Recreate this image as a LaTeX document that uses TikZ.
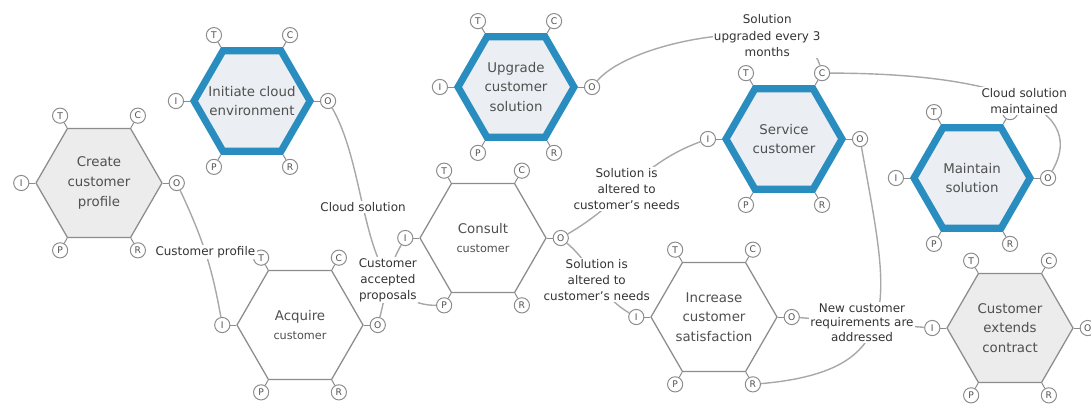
\documentclass[tikz,border=0pt]{standalone}
\usepackage{fontspec}
\setmainfont{DejaVu Sans}
\usepackage{tikz}
\usetikzlibrary{shapes.geometric, calc}
\definecolor{hexgrey}{HTML}{8C8C8C}
\definecolor{hexfill}{HTML}{ECECEC}
\definecolor{procblue}{HTML}{2A8DC0}
\definecolor{procfill}{HTML}{EBEEF2}
\definecolor{linkgrey}{HTML}{A8A8A8}
\definecolor{textgrey}{HTML}{505050}

\begin{document}
\begin{tikzpicture}[x=0.025cm, y=0.025cm,
    hexa/.style={regular polygon, regular polygon sides=6, minimum size=3.15cm,
      inner sep=-8pt, draw=hexgrey, line width=0.9pt, fill=white, align=center,
      text=textgrey, font=\fontsize{9.5}{14}\selectfont},
    greyhexa/.style={hexa, fill=hexfill},
    bluehexa/.style={hexa, minimum size=2.9cm, draw=procblue, line width=5pt,
      fill=procfill},
    port/.style={circle, draw=hexgrey, fill=white, line width=0.7pt,
      minimum size=0.38cm, inner sep=0pt, text=textgrey,
      font=\fontsize{6.5}{6.5}\selectfont},
    link/.style={draw=linkgrey, line width=1pt},
    linklabel/.style={fill=white, inner sep=1pt, align=center, text=black!80,
      font=\fontsize{8.5}{11.5}\selectfont}]
  \useasboundingbox (0,0) rectangle (1091,410);

  % Processes
  \node[greyhexa] (prof) at (99,227) {Create\\customer\\profile};
  \node[bluehexa] (init) at (252,309) {Initiate cloud\\environment};
  \node[hexa] (acq) at (300,85) {Acquire\\{\fontsize{8}{12}\selectfont customer}};
  \node[hexa] (cons) at (483,172) {Consult\\{\fontsize{8}{12}\selectfont customer}};
  \node[bluehexa] (upg) at (516,323) {Upgrade\\customer\\solution};
  \node[bluehexa] (svc) at (784,271) {Service\\customer};
  \node[bluehexa] (mnt) at (972,232) {Maintain\\solution};
  \node[hexa] (incr) at (714,93) {Increase\\customer\\satisfaction};
  \node[greyhexa] (ext) at (1010,82) {Customer\\extends\\contract};

  % Ports on the six corners
  \foreach \h in {prof,init,acq,cons,upg,svc,mnt,incr,ext}
    \foreach \p/\a in {T/120,C/60,I/180,O/0,P/240,R/300} {
      \node[port] (\h-\p) at ($(\h.\a)+(\a:14)$) {\p};
      \draw[hexgrey, line width=0.7pt] (\h.\a) -- (\h-\p);
    }

  % Flows between ports
  \draw[link] (prof-O) to[out=-65, in=100]
    node[linklabel, pos=0.5] {Customer profile} (acq-I);
  \draw[link] (init-O) to[out=-60, in=180, looseness=0.9]
    node[linklabel, pos=0.4] {Cloud solution} (cons-P);
  \draw[link] (acq-O) to[out=75, in=240]
    node[linklabel] {Customer\\accepted\\proposals} (cons-I);
  \draw[link] (cons-O) to[out=30, in=200]
    node[linklabel, pos=0.45] {Solution is\\altered to\\customer's needs} (svc-I);
  \draw[link] (cons-O) to[out=-40, in=150]
    node[linklabel] {Solution is\\altered to\\customer's needs} (incr-I);
  \draw[link] (upg-O) to[out=50, in=105, looseness=0.65]
    node[linklabel, pos=0.68] {Solution\\upgraded every 3\\months} (svc-C);
  \draw[link] (svc-O) to[out=-80, in=5, looseness=1.5] (incr-R);
  \draw[link] (svc-C) to[out=0, in=60, out distance=3.75cm, in distance=2cm]
    node[linklabel, pos=0.55] {Cloud solution\\maintained} (mnt-O);
  \draw[link] (incr-O) --
    node[linklabel, font=\fontsize{8.5}{10.5}\selectfont]
    {New customer\\requirements are\\addressed} (ext-I);
\end{tikzpicture}
\end{document}
